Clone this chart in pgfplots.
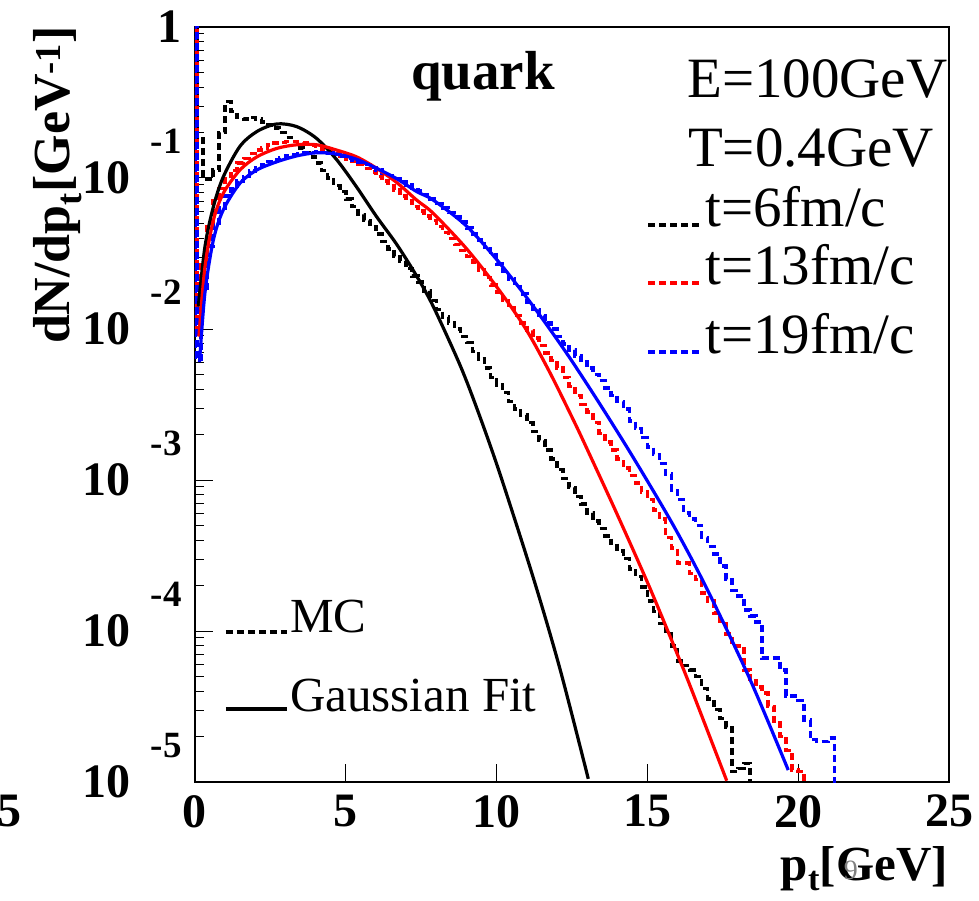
\documentclass[border=0pt]{standalone}
\usepackage{fontspec}
\setmainfont{Liberation Serif}
\usepackage{pgfplots}
\pgfplotsset{compat=1.18}
\begin{document}
\begin{tikzpicture}
\useasboundingbox (-195pt,-119pt) rectangle (784pt,782pt);
\begin{axis}[
  at={(0,0)}, anchor=south west,
  scale only axis, width=754pt, height=755pt,
  xmin=0, xmax=25, ymin=1e-5, ymax=1, ymode=log,
  clip mode=individual,
  axis line style={black, line width=1.2pt},
  tick align=inside, tick pos=left,
  major tick length=18pt, minor tick length=9pt,
  major tick style={black, line width=1pt},
  minor tick style={black, line width=0.9pt},
  xtick={0,5,10,15,20,25}, xticklabels={0,5,10,15,20,25},
  minor x tick num=0,
  ytick={1e-5,1e-4,1e-3,1e-2,1e-1,1},
  yticklabels={
    {10\hspace{20pt}\smash{\raisebox{40pt}{\fontsize{37}{37}\selectfont\bfseries -5}}},
    {10\hspace{20pt}\smash{\raisebox{40pt}{\fontsize{37}{37}\selectfont\bfseries -4}}},
    {10\hspace{20pt}\smash{\raisebox{40pt}{\fontsize{37}{37}\selectfont\bfseries -3}}},
    {10\hspace{20pt}\smash{\raisebox{40pt}{\fontsize{37}{37}\selectfont\bfseries -2}}},
    {10\hspace{20pt}\smash{\raisebox{40pt}{\fontsize{37}{37}\selectfont\bfseries -1}}},
    {1\hspace{37pt}}},
  minor ytick={2e-5,3e-5,4e-5,5e-5,6e-5,7e-5,8e-5,9e-5,2e-4,3e-4,4e-4,5e-4,6e-4,7e-4,8e-4,9e-4,2e-3,3e-3,4e-3,5e-3,6e-3,7e-3,8e-3,9e-3,2e-2,3e-2,4e-2,5e-2,6e-2,7e-2,8e-2,9e-2,0.2,0.3,0.4,0.5,0.6,0.7,0.8,0.9},
  tick label style={font=\fontsize{48}{48}\selectfont\bfseries},
  xticklabel style={anchor=north, inner sep=0pt, yshift=-13pt},
  yticklabel style={anchor=east, inner sep=0pt, xshift=-13pt},
  hist/.style={const plot mark left, line width=3.5pt, dash pattern=on 7pt off 4pt},
  fit/.style={smooth, line width=3.2pt},
]
% MC histograms
\addplot[hist, black] coordinates {
(0,1.86e-1) (0,5) (0.06,1.86e-1) (0.27,9.77e-2) (0.6,1.13e-1) (0.8,2.0e-1) (1.0,3.2e-1) (1.2,2.75e-1) (1.4,2.51e-1) (1.6,2.45e-1) (1.8,2.51e-1) (2.0,2.45e-1) (2.2,2.34e-1) (2.4,2.24e-1) (2.6,2.14e-1) (2.8,2.0e-1) (3.0,1.86e-1) (3.2,1.74e-1) (3.4,1.58e-1) (3.6,1.48e-1) (3.8,1.38e-1) (4.0,1.26e-1) (4.2,1.12e-1) (4.4,1.0e-1) (4.6,8.91e-2) (4.8,8.13e-2) (5.0,7.24e-2) (5.2,6.46e-2) (5.4,5.75e-2) (5.6,5.25e-2) (5.8,4.79e-2) (6.0,4.27e-2) (6.2,3.8e-2) (6.4,3.39e-2) (6.6,3.02e-2) (6.8,2.82e-2) (7.0,2.51e-2) (7.2,2.24e-2) (7.4,2.04e-2) (7.6,1.78e-2) (7.8,1.55e-2) (8.0,1.35e-2) (8.2,1.2e-2) (8.4,1.1e-2) (8.6,1.0e-2) (8.8,8.91e-3) (9.0,8.13e-3) (9.2,7.08e-3) (9.4,6.31e-3) (9.6,5.5e-3) (9.8,4.79e-3) (10.0,4.27e-3) (10.2,3.8e-3) (10.4,3.31e-3) (10.6,2.95e-3) (10.8,2.69e-3) (11.0,2.4e-3) (11.2,2.09e-3) (11.4,1.82e-3) (11.6,1.58e-3) (11.8,1.38e-3) (12.0,1.17e-3) (12.2,1.02e-3) (12.4,8.91e-4) (12.6,7.76e-4) (12.8,6.92e-4) (13.0,6.03e-4) (13.2,5.37e-4) (13.4,4.79e-4) (13.6,4.27e-4) (13.8,3.8e-4) (14.0,3.39e-4) (14.2,3.02e-4) (14.4,2.57e-4) (14.6,2.29e-4) (14.8,1.95e-4) (15.0,1.58e-4) (15.2,1.35e-4) (15.4,1.12e-4) (15.6,1.0e-4) (15.8,7.94e-5) (16.0,6.31e-5) (16.2,5.89e-5) (16.4,5.5e-5) (16.6,5.01e-5) (16.8,4.17e-5) (17.0,3.55e-5) (17.2,3.02e-5) (17.4,2.63e-5) (17.6,2.29e-5) (17.8,1.17e-5) (18.0,1.23e-5) (18.2,1.33e-5) (18.4,1e-7)
};
\addplot[hist, red] coordinates {
(0,1.0e-2) (0,5) (0.06,1.0e-2) (0.2,2.82e-2) (0.4,5.01e-2) (0.6,7.08e-2) (0.8,8.51e-2) (1.0,1.02e-1) (1.2,1.12e-1) (1.4,1.26e-1) (1.6,1.35e-1) (1.8,1.45e-1) (2.0,1.53e-1) (2.2,1.58e-1) (2.4,1.66e-1) (2.6,1.70e-1) (2.8,1.72e-1) (3.0,1.74e-1) (3.2,1.74e-1) (3.4,1.72e-1) (3.6,1.70e-1) (3.8,1.66e-1) (4.0,1.62e-1) (4.2,1.55e-1) (4.4,1.49e-1) (4.6,1.45e-1) (4.8,1.40e-1) (5.0,1.33e-1) (5.2,1.29e-1) (5.4,1.23e-1) (5.6,1.16e-1) (5.8,1.10e-1) (6.0,1.02e-1) (6.2,9.55e-2) (6.4,8.91e-2) (6.6,8.32e-2) (6.8,7.59e-2) (7.0,7.08e-2) (7.2,6.46e-2) (7.4,6.03e-2) (7.6,5.62e-2) (7.8,5.25e-2) (8.0,4.79e-2) (8.2,4.37e-2) (8.4,3.98e-2) (8.6,3.63e-2) (8.8,3.31e-2) (9.0,3.02e-2) (9.2,2.75e-2) (9.4,2.45e-2) (9.6,2.19e-2) (9.8,1.95e-2) (10.0,1.74e-2) (10.2,1.55e-2) (10.4,1.38e-2) (10.6,1.23e-2) (10.8,1.10e-2) (11.0,9.77e-3) (11.2,8.71e-3) (11.4,7.76e-3) (11.6,6.92e-3) (11.8,6.17e-3) (12.0,5.50e-3) (12.2,4.79e-3) (12.4,4.17e-3) (12.6,3.63e-3) (12.8,3.16e-3) (13.0,2.82e-3) (13.2,2.40e-3) (13.4,2.04e-3) (13.6,1.78e-3) (13.8,1.58e-3) (14.0,1.38e-3) (14.2,1.20e-3) (14.4,1.07e-3) (14.6,9.55e-4) (14.8,8.32e-4) (15.0,7.41e-4) (15.2,6.31e-4) (15.4,5.50e-4) (15.6,4.17e-4) (15.8,3.55e-4) (16.0,2.82e-4) (16.2,2.82e-4) (16.4,2.40e-4) (16.6,2.19e-4) (16.8,1.78e-4) (17.0,1.58e-4) (17.2,1.32e-4) (17.4,1.12e-4) (17.6,9.55e-5) (17.8,7.94e-5) (18.0,7.94e-5) (18.2,5.50e-5) (18.4,4.79e-5) (18.6,4.27e-5) (18.8,3.89e-5) (19.0,3.16e-5) (19.2,2.45e-5) (19.4,2.0e-5) (19.6,1.62e-5) (19.8,1.20e-5) (20.0,1.17e-5) (20.2,1e-7)
};
\addplot[hist, blue] coordinates {
(0,6.31e-3) (0,5) (0.06,6.31e-3) (0.2,1.78e-2) (0.4,3.55e-2) (0.6,5.01e-2) (0.8,6.31e-2) (1.0,7.59e-2) (1.2,8.51e-2) (1.4,9.55e-2) (1.6,1.02e-1) (1.8,1.11e-1) (2.0,1.17e-1) (2.2,1.23e-1) (2.4,1.29e-1) (2.6,1.32e-1) (2.8,1.36e-1) (3.0,1.40e-1) (3.2,1.42e-1) (3.4,1.44e-1) (3.6,1.46e-1) (3.8,1.47e-1) (4.0,1.49e-1) (4.2,1.48e-1) (4.4,1.46e-1) (4.6,1.43e-1) (4.8,1.40e-1) (5.0,1.36e-1) (5.2,1.32e-1) (5.4,1.27e-1) (5.6,1.23e-1) (5.8,1.17e-1) (6.0,1.13e-1) (6.2,1.08e-1) (6.4,1.04e-1) (6.6,9.89e-2) (6.8,9.44e-2) (7.0,9.02e-2) (7.2,8.61e-2) (7.4,8.22e-2) (7.6,7.76e-2) (7.8,7.24e-2) (8.0,6.76e-2) (8.2,6.31e-2) (8.4,5.89e-2) (8.6,5.50e-2) (8.8,5.13e-2) (9.0,4.68e-2) (9.2,4.27e-2) (9.4,3.89e-2) (9.6,3.47e-2) (9.8,3.09e-2) (10.0,2.69e-2) (10.2,2.40e-2) (10.4,2.14e-2) (10.6,1.91e-2) (10.8,1.70e-2) (11.0,1.51e-2) (11.2,1.35e-2) (11.4,1.23e-2) (11.6,1.10e-2) (11.8,1.0e-2) (12.0,8.91e-3) (12.2,7.94e-3) (12.4,7.24e-3) (12.6,6.61e-3) (12.8,6.03e-3) (13.0,5.50e-3) (13.2,5.01e-3) (13.4,4.57e-3) (13.6,4.07e-3) (13.8,3.63e-3) (14.0,3.31e-3) (14.2,2.95e-3) (14.4,2.45e-3) (14.6,2.19e-3) (14.8,1.91e-3) (15.0,1.66e-3) (15.2,1.48e-3) (15.4,1.29e-3) (15.6,1.10e-3) (15.8,8.51e-4) (16.0,7.41e-4) (16.2,6.03e-4) (16.4,5.50e-4) (16.6,5.01e-4) (16.8,4.17e-4) (17.0,3.63e-4) (17.2,3.24e-4) (17.4,2.69e-4) (17.6,2.19e-4) (17.8,1.86e-4) (18.0,1.70e-4) (18.2,1.38e-4) (18.4,1.26e-4) (18.6,1.15e-4) (18.8,6.61e-5) (19.0,6.61e-5) (19.2,6.61e-5) (19.4,5.50e-5) (19.6,3.72e-5) (19.8,3.72e-5) (20.0,3.47e-5) (20.2,2.57e-5) (20.4,1.91e-5) (20.6,1.86e-5) (20.8,1.86e-5) (21.0,1.95e-5) (21.2,1e-7)
};
% Gaussian fits
\addplot[fit, black] coordinates {
(0.11,1.41e-2) (0.33,3.51e-2) (0.61,6.46e-2) (0.94,1.02e-1) (1.49,1.62e-1) (2.05,2.03e-1) (2.71,2.28e-1) (3.37,2.19e-1) (4.03,1.83e-1) (4.70,1.32e-1) (5.36,8.71e-2) (6.02,5.55e-2) (6.69,3.63e-2) (7.35,2.24e-2) (7.90,1.41e-2) (8.79,5.75e-3) (9.39,2.82e-3) (10.11,1.10e-3) (11.22,2.24e-4) (12.10,5.62e-5) (13.04,1.05e-5)
};
\addplot[fit, red] coordinates {
(0.13,8.91e-3) (0.33,2.57e-2) (0.61,5.25e-2) (0.94,7.94e-2) (1.49,1.13e-1) (2.05,1.38e-1) (2.71,1.57e-1) (3.37,1.66e-1) (4.03,1.66e-1) (4.70,1.53e-1) (5.36,1.38e-1) (6.02,1.16e-1) (6.69,9.33e-2) (7.35,7.14e-2) (7.90,5.83e-2) (9.01,3.39e-2) (10.11,1.78e-2) (11.0,9.77e-3) (11.77,5.13e-3) (12.54,2.51e-3) (12.99,1.62e-3) (13.98,6.03e-4) (15.09,1.91e-4) (16.19,5.62e-5) (16.74,2.95e-5) (17.63,1.02e-5)
};
\addplot[fit, blue] coordinates {
(0.15,6.03e-3) (0.33,1.74e-2) (0.61,3.89e-2) (0.94,6.17e-2) (1.49,9.23e-2) (2.05,1.13e-1) (2.71,1.28e-1) (3.37,1.40e-1) (4.03,1.47e-1) (4.70,1.44e-1) (5.36,1.33e-1) (6.02,1.16e-1) (6.69,9.89e-2) (7.35,8.13e-2) (7.90,7.14e-2) (9.01,4.79e-2) (10.11,2.72e-2) (11.22,1.41e-2) (12.32,6.92e-3) (13.4,3.24e-3) (14.53,1.41e-3) (15.86,5.01e-4) (16.97,1.91e-4) (18.40,4.79e-5) (19.67,1.20e-5)
};
% texts
\node[anchor=base, font=\fontsize{55}{55}\selectfont\bfseries] at (rel axis cs:0.382,0.9166) {quark};
\node[anchor=base west, inner sep=0pt, font=\fontsize{57}{57}\selectfont] at (rel axis cs:0.6525,0.906) {E=100GeV};
\node[anchor=base west, inner sep=0pt, font=\fontsize{57}{57}\selectfont] at (rel axis cs:0.6538,0.8146) {T=0.4GeV};
\draw[black, line width=3.5pt, dash pattern=on 7pt off 4pt] (rel axis cs:0.6008,0.7377) -- (rel axis cs:0.6737,0.7377);
\draw[red, line width=3.5pt, dash pattern=on 7pt off 4pt] (rel axis cs:0.6008,0.6609) -- (rel axis cs:0.6737,0.6609);
\draw[blue, line width=3.5pt, dash pattern=on 7pt off 4pt] (rel axis cs:0.6008,0.5695) -- (rel axis cs:0.6737,0.5695);
\node[anchor=base west, inner sep=0pt, font=\fontsize{57}{57}\selectfont] at (rel axis cs:0.6764,0.7351) {t=6fm/c};
\node[anchor=base west, inner sep=0pt, font=\fontsize{57}{57}\selectfont] at (rel axis cs:0.6764,0.6583) {t=13fm/c};
\node[anchor=base west, inner sep=0pt, font=\fontsize{57}{57}\selectfont] at (rel axis cs:0.6764,0.5682) {t=19fm/c};
\draw[black, line width=3.5pt, dash pattern=on 7pt off 4pt] (rel axis cs:0.0411,0.1987) -- (rel axis cs:0.122,0.1987);
\draw[black, line width=3.2pt] (rel axis cs:0.0411,0.0967) -- (rel axis cs:0.122,0.0967);
\node[anchor=base west, inner sep=0pt, font=\fontsize{49}{49}\selectfont] at (rel axis cs:0.126,0.1974) {MC};
\node[anchor=base west, inner sep=0pt, font=\fontsize{49}{49}\selectfont] at (rel axis cs:0.126,0.094) {Gaussian Fit};
% axis titles
\node[anchor=base, rotate=90, inner sep=0pt, font=\fontsize{52}{52}\selectfont\bfseries] at (rel axis cs:-0.1658,0.7907) {dN/dp\textsubscript{t}[GeV\textsuperscript{-1}]};
\node[anchor=base east, inner sep=0pt, font=\fontsize{49}{49}\selectfont\bfseries] at (rel axis cs:0.9987,-0.130) {p\textsubscript{t}[GeV]};
\node[anchor=center, inner sep=0pt, text=gray, font=\fontsize{28}{28}\selectfont] at (rel axis cs:0.870,-0.1166) {9};
\node[anchor=north east, inner sep=0pt, font=\fontsize{48}{48}\selectfont\bfseries] at (rel axis cs:-0.2294,-0.0172) {5};
\end{axis}
\end{tikzpicture}
\end{document}
